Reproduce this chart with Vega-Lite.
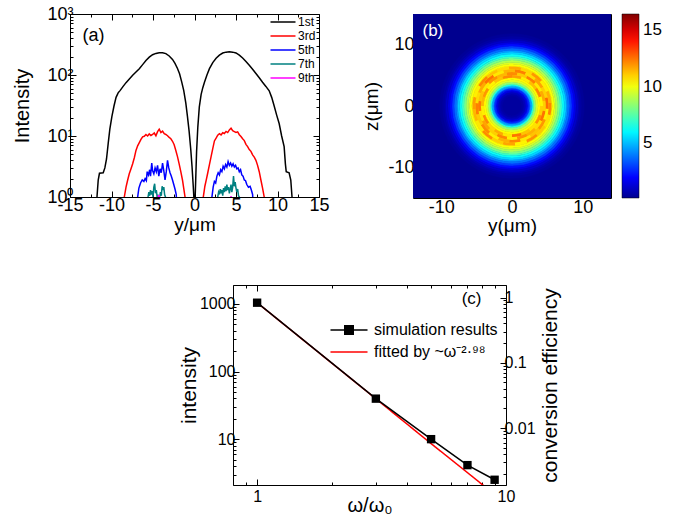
{
"$schema": "https://vega.github.io/schema/vega-lite/v6.json",
"padding": {"left": 12, "top": 4, "right": 5, "bottom": 5},
"background": "white",
"datasets": {
"harm": [
{"h":"1st","y":-12.0,"I":0.5},{"h":"1st","y":-11.75,"I":1.0},{"h":"1st","y":-11.6,"I":1.9},{"h":"1st","y":-11.45,"I":2.45},{"h":"1st","y":-11.0,"I":2.5},{"h":"1st","y":-10.8,"I":3.0},{"h":"1st","y":-10.6,"I":4.2},{"h":"1st","y":-10.4,"I":7.5},{"h":"1st","y":-10.2,"I":13},{"h":"1st","y":-9.95,"I":21},{"h":"1st","y":-9.7,"I":31},{"h":"1st","y":-9.45,"I":43},{"h":"1st","y":-9.2,"I":51},{"h":"1st","y":-8.95,"I":56},{"h":"1st","y":-8.6,"I":65},{"h":"1st","y":-8.25,"I":75},{"h":"1st","y":-7.85,"I":86},{"h":"1st","y":-7.45,"I":99},{"h":"1st","y":-7.05,"I":112},{"h":"1st","y":-6.65,"I":127},{"h":"1st","y":-6.25,"I":148},{"h":"1st","y":-5.85,"I":173},{"h":"1st","y":-5.45,"I":196},{"h":"1st","y":-5.05,"I":215},{"h":"1st","y":-4.65,"I":226},{"h":"1st","y":-4.25,"I":232},{"h":"1st","y":-3.85,"I":232},{"h":"1st","y":-3.45,"I":224},{"h":"1st","y":-3.05,"I":205},{"h":"1st","y":-2.65,"I":180},{"h":"1st","y":-2.35,"I":155},{"h":"1st","y":-2.05,"I":128},{"h":"1st","y":-1.8,"I":105},{"h":"1st","y":-1.55,"I":78},{"h":"1st","y":-1.3,"I":56},{"h":"1st","y":-1.05,"I":35},{"h":"1st","y":-0.85,"I":21},{"h":"1st","y":-0.65,"I":12},{"h":"1st","y":-0.45,"I":6},{"h":"1st","y":-0.3,"I":3.2},{"h":"1st","y":-0.15,"I":1.5},{"h":"1st","y":-0.08,"I":1.0},{"h":"1st","y":0.0,"I":0.5},{"h":"1st","y":0.08,"I":1.0},{"h":"1st","y":0.15,"I":2},{"h":"1st","y":0.25,"I":5.5},{"h":"1st","y":0.4,"I":14},{"h":"1st","y":0.58,"I":30},{"h":"1st","y":0.8,"I":48},{"h":"1st","y":1.0,"I":62},{"h":"1st","y":1.2,"I":76},{"h":"1st","y":1.5,"I":100},{"h":"1st","y":1.8,"I":127},{"h":"1st","y":2.2,"I":160},{"h":"1st","y":2.6,"I":188},{"h":"1st","y":3.0,"I":212},{"h":"1st","y":3.4,"I":229},{"h":"1st","y":3.8,"I":237},{"h":"1st","y":4.2,"I":240},{"h":"1st","y":4.6,"I":237},{"h":"1st","y":5.0,"I":230},{"h":"1st","y":5.4,"I":212},{"h":"1st","y":5.8,"I":190},{"h":"1st","y":6.2,"I":166},{"h":"1st","y":6.6,"I":144},{"h":"1st","y":7.0,"I":124},{"h":"1st","y":7.4,"I":106},{"h":"1st","y":7.8,"I":90},{"h":"1st","y":8.2,"I":76},{"h":"1st","y":8.6,"I":65},{"h":"1st","y":9.0,"I":55},{"h":"1st","y":9.3,"I":43},{"h":"1st","y":9.6,"I":31},{"h":"1st","y":9.9,"I":22},{"h":"1st","y":10.2,"I":16},{"h":"1st","y":10.5,"I":10},{"h":"1st","y":10.8,"I":6.7},{"h":"1st","y":10.95,"I":3.5},{"h":"1st","y":11.05,"I":2.6},{"h":"1st","y":11.4,"I":2.5},{"h":"1st","y":11.6,"I":1.9},{"h":"1st","y":11.75,"I":1.0},{"h":"1st","y":12.0,"I":0.5},
{"h":"3rd","y":-8.7,"I":0.5},{"h":"3rd","y":-8.46,"I":1.0},{"h":"3rd","y":-8.25,"I":1.45},{"h":"3rd","y":-8.05,"I":1.9},{"h":"3rd","y":-7.86,"I":2.4},{"h":"3rd","y":-7.65,"I":2.9},{"h":"3rd","y":-7.45,"I":3.5},{"h":"3rd","y":-7.25,"I":4.4},{"h":"3rd","y":-7.05,"I":5.8},{"h":"3rd","y":-6.85,"I":6.9},{"h":"3rd","y":-6.65,"I":7.8},{"h":"3rd","y":-6.45,"I":8.8},{"h":"3rd","y":-6.25,"I":9.7},{"h":"3rd","y":-6.05,"I":9.9},{"h":"3rd","y":-5.85,"I":10.6},{"h":"3rd","y":-5.65,"I":10.0},{"h":"3rd","y":-5.45,"I":10.8},{"h":"3rd","y":-5.25,"I":10.2},{"h":"3rd","y":-5.05,"I":10.6},{"h":"3rd","y":-4.85,"I":11.2},{"h":"3rd","y":-4.65,"I":10.1},{"h":"3rd","y":-4.45,"I":11.8},{"h":"3rd","y":-4.25,"I":12.9},{"h":"3rd","y":-4.05,"I":11.4},{"h":"3rd","y":-3.85,"I":12.0},{"h":"3rd","y":-3.65,"I":10.9},{"h":"3rd","y":-3.45,"I":10.6},{"h":"3rd","y":-3.25,"I":10.1},{"h":"3rd","y":-3.05,"I":9.5},{"h":"3rd","y":-2.85,"I":9.0},{"h":"3rd","y":-2.65,"I":8.2},{"h":"3rd","y":-2.45,"I":7.2},{"h":"3rd","y":-2.25,"I":5.8},{"h":"3rd","y":-2.05,"I":4.6},{"h":"3rd","y":-1.85,"I":3.5},{"h":"3rd","y":-1.65,"I":2.6},{"h":"3rd","y":-1.45,"I":1.9},{"h":"3rd","y":-1.3,"I":1.4},{"h":"3rd","y":-1.14,"I":1.0},{"h":"3rd","y":-1.0,"I":0.5},
{"h":"3rd","y":0.9,"I":0.5},{"h":"3rd","y":1.06,"I":1.0},{"h":"3rd","y":1.25,"I":1.5},{"h":"3rd","y":1.45,"I":2.0},{"h":"3rd","y":1.6,"I":2.5},{"h":"3rd","y":1.8,"I":3.4},{"h":"3rd","y":2.0,"I":4.6},{"h":"3rd","y":2.2,"I":6.2},{"h":"3rd","y":2.4,"I":8.3},{"h":"3rd","y":2.6,"I":9.2},{"h":"3rd","y":2.8,"I":10.3},{"h":"3rd","y":3.0,"I":10.9},{"h":"3rd","y":3.2,"I":10.4},{"h":"3rd","y":3.4,"I":11.3},{"h":"3rd","y":3.6,"I":11.0},{"h":"3rd","y":3.8,"I":11.9},{"h":"3rd","y":4.0,"I":11.4},{"h":"3rd","y":4.2,"I":12.6},{"h":"3rd","y":4.4,"I":13.4},{"h":"3rd","y":4.6,"I":12.2},{"h":"3rd","y":4.8,"I":11.8},{"h":"3rd","y":5.0,"I":11.4},{"h":"3rd","y":5.2,"I":11.7},{"h":"3rd","y":5.4,"I":10.5},{"h":"3rd","y":5.6,"I":9.8},{"h":"3rd","y":5.8,"I":9.0},{"h":"3rd","y":6.0,"I":8.4},{"h":"3rd","y":6.2,"I":7.3},{"h":"3rd","y":6.4,"I":6.7},{"h":"3rd","y":6.6,"I":6.0},{"h":"3rd","y":6.8,"I":5.6},{"h":"3rd","y":7.0,"I":4.9},{"h":"3rd","y":7.2,"I":4.5},{"h":"3rd","y":7.4,"I":4.0},{"h":"3rd","y":7.6,"I":3.3},{"h":"3rd","y":7.8,"I":2.6},{"h":"3rd","y":8.0,"I":1.9},{"h":"3rd","y":8.2,"I":1.4},{"h":"3rd","y":8.4,"I":1.0},{"h":"3rd","y":8.6,"I":0.5},
{"h":"5th","y":-7.0,"I":0.5},{"h":"5th","y":-6.85,"I":1.0},{"h":"5th","y":-6.7,"I":1.4},{"h":"5th","y":-6.5,"I":1.7},{"h":"5th","y":-6.3,"I":1.9},{"h":"5th","y":-6.1,"I":1.8},{"h":"5th","y":-5.95,"I":2.0},{"h":"5th","y":-5.8,"I":1.85},{"h":"5th","y":-5.7,"I":2.6},{"h":"5th","y":-5.55,"I":2.3},{"h":"5th","y":-5.4,"I":2.8},{"h":"5th","y":-5.3,"I":2.2},{"h":"5th","y":-5.15,"I":3.6},{"h":"5th","y":-5.05,"I":2.7},{"h":"5th","y":-4.9,"I":2.4},{"h":"5th","y":-4.75,"I":3.0},{"h":"5th","y":-4.6,"I":2.6},{"h":"5th","y":-4.45,"I":3.3},{"h":"5th","y":-4.3,"I":2.2},{"h":"5th","y":-4.15,"I":2.9},{"h":"5th","y":-4.0,"I":2.5},{"h":"5th","y":-3.85,"I":3.6},{"h":"5th","y":-3.7,"I":2.7},{"h":"5th","y":-3.55,"I":1.9},{"h":"5th","y":-3.4,"I":2.6},{"h":"5th","y":-3.25,"I":4.0},{"h":"5th","y":-3.1,"I":3.0},{"h":"5th","y":-2.95,"I":2.5},{"h":"5th","y":-2.8,"I":2.2},{"h":"5th","y":-2.65,"I":1.9},{"h":"5th","y":-2.5,"I":1.6},{"h":"5th","y":-2.35,"I":1.35},{"h":"5th","y":-2.2,"I":1.1},{"h":"5th","y":-2.1,"I":0.5},
{"h":"5th","y":1.95,"I":0.5},{"h":"5th","y":2.1,"I":1.0},{"h":"5th","y":2.25,"I":1.45},{"h":"5th","y":2.4,"I":1.8},{"h":"5th","y":2.55,"I":1.7},{"h":"5th","y":2.7,"I":2.2},{"h":"5th","y":2.85,"I":2.5},{"h":"5th","y":3.0,"I":2.3},{"h":"5th","y":3.15,"I":2.8},{"h":"5th","y":3.3,"I":2.6},{"h":"5th","y":3.45,"I":3.2},{"h":"5th","y":3.6,"I":2.9},{"h":"5th","y":3.75,"I":3.4},{"h":"5th","y":3.9,"I":3.1},{"h":"5th","y":4.05,"I":3.8},{"h":"5th","y":4.2,"I":3.3},{"h":"5th","y":4.35,"I":3.6},{"h":"5th","y":4.5,"I":3.2},{"h":"5th","y":4.65,"I":3.5},{"h":"5th","y":4.8,"I":3.1},{"h":"5th","y":4.95,"I":3.3},{"h":"5th","y":5.1,"I":2.9},{"h":"5th","y":5.25,"I":3.0},{"h":"5th","y":5.4,"I":2.6},{"h":"5th","y":5.55,"I":2.8},{"h":"5th","y":5.7,"I":2.3},{"h":"5th","y":5.85,"I":2.2},{"h":"5th","y":6.0,"I":1.9},{"h":"5th","y":6.15,"I":1.85},{"h":"5th","y":6.3,"I":1.6},{"h":"5th","y":6.5,"I":1.45},{"h":"5th","y":6.7,"I":1.5},{"h":"5th","y":6.85,"I":1.3},{"h":"5th","y":7.0,"I":1.1},{"h":"5th","y":7.15,"I":0.5},
{"h":"7th","y":-5.7,"I":0.5},{"h":"7th","y":-5.6,"I":1.0},{"h":"7th","y":-5.5,"I":1.2},{"h":"7th","y":-5.4,"I":1.05},{"h":"7th","y":-5.3,"I":1.3},{"h":"7th","y":-5.2,"I":1.1},{"h":"7th","y":-5.1,"I":1.25},{"h":"7th","y":-5.0,"I":1.0},{"h":"7th","y":-4.9,"I":1.45},{"h":"7th","y":-4.8,"I":1.65},{"h":"7th","y":-4.7,"I":1.15},{"h":"7th","y":-4.6,"I":1.3},{"h":"7th","y":-4.5,"I":1.0},{"h":"7th","y":-4.4,"I":1.1},{"h":"7th","y":-4.3,"I":0.8},{"h":"7th","y":-4.2,"I":1.0},{"h":"7th","y":-4.1,"I":1.2},{"h":"7th","y":-4.0,"I":1.05},{"h":"7th","y":-3.9,"I":1.5},{"h":"7th","y":-3.8,"I":1.3},{"h":"7th","y":-3.7,"I":1.45},{"h":"7th","y":-3.6,"I":1.1},{"h":"7th","y":-3.5,"I":1.0},{"h":"7th","y":-3.4,"I":0.5},
{"h":"7th","y":2.7,"I":0.5},{"h":"7th","y":2.8,"I":1.0},{"h":"7th","y":2.9,"I":1.2},{"h":"7th","y":3.0,"I":1.1},{"h":"7th","y":3.1,"I":1.35},{"h":"7th","y":3.2,"I":1.15},{"h":"7th","y":3.3,"I":1.3},{"h":"7th","y":3.4,"I":1.05},{"h":"7th","y":3.5,"I":1.4},{"h":"7th","y":3.6,"I":1.2},{"h":"7th","y":3.7,"I":1.5},{"h":"7th","y":3.8,"I":1.25},{"h":"7th","y":3.9,"I":1.6},{"h":"7th","y":4.0,"I":1.3},{"h":"7th","y":4.1,"I":1.45},{"h":"7th","y":4.2,"I":1.15},{"h":"7th","y":4.3,"I":1.35},{"h":"7th","y":4.4,"I":1.6},{"h":"7th","y":4.5,"I":1.2},{"h":"7th","y":4.6,"I":1.45},{"h":"7th","y":4.7,"I":2.2},{"h":"7th","y":4.8,"I":1.5},{"h":"7th","y":4.9,"I":1.75},{"h":"7th","y":5.0,"I":1.4},{"h":"7th","y":5.1,"I":1.2},{"h":"7th","y":5.2,"I":1.35},{"h":"7th","y":5.3,"I":1.05},{"h":"7th","y":5.4,"I":1.0},{"h":"7th","y":5.5,"I":0.5},
{"h":"9th","y":-4.5,"I":0.5},{"h":"9th","y":-4.35,"I":1.05},{"h":"9th","y":-4.25,"I":1.05},{"h":"9th","y":-4.15,"I":0.5},{"h":"9th","y":4.3,"I":0.5},{"h":"9th","y":4.4,"I":1.04},{"h":"9th","y":4.5,"I":0.5}
],
"rings": [
{"r0":0,"r1":1.4,"v":0.45},{"r0":1.4,"r1":1.7,"v":0.6},{"r0":1.7,"r1":2.0,"v":0.9},{"r0":2.0,"r1":2.3,"v":1.5},{"r0":2.3,"r1":2.55,"v":2.7},{"r0":2.55,"r1":2.85,"v":4.5},{"r0":2.85,"r1":3.1,"v":6.5},{"r0":3.1,"r1":3.4,"v":8.3},{"r0":3.4,"r1":3.7,"v":9.6},{"r0":3.7,"r1":4.0,"v":10.3},{"r0":4.0,"r1":4.25,"v":10.6},{"r0":4.25,"r1":4.55,"v":10.9},{"r0":4.55,"r1":4.8,"v":11.0},{"r0":4.8,"r1":5.1,"v":11.0},{"r0":5.1,"r1":5.4,"v":10.8},{"r0":5.4,"r1":5.65,"v":10.5},{"r0":5.65,"r1":5.95,"v":10.2},{"r0":5.95,"r1":6.2,"v":9.7},{"r0":6.2,"r1":6.5,"v":9.0},{"r0":6.5,"r1":6.8,"v":8.1},{"r0":6.8,"r1":7.05,"v":7.2},{"r0":7.05,"r1":7.35,"v":6.3},{"r0":7.35,"r1":7.65,"v":5.4},{"r0":7.65,"r1":7.9,"v":4.6},{"r0":7.9,"r1":8.2,"v":3.8},{"r0":8.2,"r1":8.5,"v":3.0},{"r0":8.5,"r1":8.8,"v":2.2},{"r0":8.8,"r1":9.05,"v":1.6},{"r0":9.05,"r1":9.35,"v":1.1},{"r0":9.35,"r1":9.6,"v":0.75},{"r0":9.6,"r1":9.9,"v":0.5},{"r0":9.9,"r1":10.2,"v":0.35}
],
"speck": [
{"r0":4.0,"r1":4.4,"t0":0,"t1":18,"v":11.8},{"r0":4.0,"r1":4.4,"t0":18,"t1":36,"v":10.5},{"r0":4.0,"r1":4.4,"t0":36,"t1":54,"v":11.3},{"r0":4.0,"r1":4.4,"t0":54,"t1":72,"v":12.2},{"r0":4.0,"r1":4.4,"t0":72,"t1":90,"v":10.4},{"r0":4.0,"r1":4.4,"t0":90,"t1":108,"v":11.0},{"r0":4.0,"r1":4.4,"t0":108,"t1":126,"v":12.0},{"r0":4.0,"r1":4.4,"t0":126,"t1":144,"v":10.7},{"r0":4.0,"r1":4.4,"t0":144,"t1":162,"v":11.2},{"r0":4.0,"r1":4.4,"t0":162,"t1":180,"v":12.5},{"r0":4.0,"r1":4.4,"t0":180,"t1":198,"v":10.6},{"r0":4.0,"r1":4.4,"t0":198,"t1":216,"v":11.6},{"r0":4.0,"r1":4.4,"t0":216,"t1":234,"v":10.9},{"r0":4.0,"r1":4.4,"t0":234,"t1":252,"v":12.1},{"r0":4.0,"r1":4.4,"t0":252,"t1":270,"v":10.5},{"r0":4.0,"r1":4.4,"t0":270,"t1":288,"v":11.4},{"r0":4.0,"r1":4.4,"t0":288,"t1":306,"v":11.9},{"r0":4.0,"r1":4.4,"t0":306,"t1":324,"v":10.4},{"r0":4.0,"r1":4.4,"t0":324,"t1":342,"v":11.2},{"r0":4.0,"r1":4.4,"t0":342,"t1":360,"v":12.1},
{"r0":4.4,"r1":4.8,"t0":9,"t1":27,"v":11.1},{"r0":4.4,"r1":4.8,"t0":27,"t1":45,"v":12.3},{"r0":4.4,"r1":4.8,"t0":45,"t1":63,"v":10.6},{"r0":4.4,"r1":4.8,"t0":63,"t1":81,"v":11.6},{"r0":4.4,"r1":4.8,"t0":81,"t1":99,"v":11.0},{"r0":4.4,"r1":4.8,"t0":99,"t1":117,"v":12.5},{"r0":4.4,"r1":4.8,"t0":117,"t1":135,"v":10.8},{"r0":4.4,"r1":4.8,"t0":135,"t1":153,"v":11.5},{"r0":4.4,"r1":4.8,"t0":153,"t1":171,"v":12.0},{"r0":4.4,"r1":4.8,"t0":171,"t1":189,"v":10.5},{"r0":4.4,"r1":4.8,"t0":189,"t1":207,"v":12.2},{"r0":4.4,"r1":4.8,"t0":207,"t1":225,"v":11.0},{"r0":4.4,"r1":4.8,"t0":225,"t1":243,"v":11.7},{"r0":4.4,"r1":4.8,"t0":243,"t1":261,"v":10.7},{"r0":4.4,"r1":4.8,"t0":261,"t1":279,"v":12.4},{"r0":4.4,"r1":4.8,"t0":279,"t1":297,"v":11.2},{"r0":4.4,"r1":4.8,"t0":297,"t1":315,"v":10.6},{"r0":4.4,"r1":4.8,"t0":315,"t1":333,"v":12.0},{"r0":4.4,"r1":4.8,"t0":333,"t1":351,"v":11.4},{"r0":4.4,"r1":4.8,"t0":351,"t1":369,"v":12.1},
{"r0":4.8,"r1":5.2,"t0":4.5,"t1":22.5,"v":12.3},{"r0":4.8,"r1":5.2,"t0":22.5,"t1":40.5,"v":10.8},{"r0":4.8,"r1":5.2,"t0":40.5,"t1":58.5,"v":11.7},{"r0":4.8,"r1":5.2,"t0":58.5,"t1":76.5,"v":11.0},{"r0":4.8,"r1":5.2,"t0":76.5,"t1":94.5,"v":12.6},{"r0":4.8,"r1":5.2,"t0":94.5,"t1":112.5,"v":10.5},{"r0":4.8,"r1":5.2,"t0":112.5,"t1":130.5,"v":11.9},{"r0":4.8,"r1":5.2,"t0":130.5,"t1":148.5,"v":11.2},{"r0":4.8,"r1":5.2,"t0":148.5,"t1":166.5,"v":10.6},{"r0":4.8,"r1":5.2,"t0":166.5,"t1":184.5,"v":12.2},{"r0":4.8,"r1":5.2,"t0":184.5,"t1":202.5,"v":11.5},{"r0":4.8,"r1":5.2,"t0":202.5,"t1":220.5,"v":10.5},{"r0":4.8,"r1":5.2,"t0":220.5,"t1":238.5,"v":12.1},{"r0":4.8,"r1":5.2,"t0":238.5,"t1":256.5,"v":11.1},{"r0":4.8,"r1":5.2,"t0":256.5,"t1":274.5,"v":12.3},{"r0":4.8,"r1":5.2,"t0":274.5,"t1":292.5,"v":10.8},{"r0":4.8,"r1":5.2,"t0":292.5,"t1":310.5,"v":11.6},{"r0":4.8,"r1":5.2,"t0":310.5,"t1":328.5,"v":12.5},{"r0":4.8,"r1":5.2,"t0":328.5,"t1":346.5,"v":10.6},{"r0":4.8,"r1":5.2,"t0":346.5,"t1":364.5,"v":11.4},
{"r0":5.2,"r1":5.6,"t0":13.5,"t1":31.5,"v":10.9},{"r0":5.2,"r1":5.6,"t0":31.5,"t1":49.5,"v":11.9},{"r0":5.2,"r1":5.6,"t0":49.5,"t1":67.5,"v":10.5},{"r0":5.2,"r1":5.6,"t0":67.5,"t1":85.5,"v":11.5},{"r0":5.2,"r1":5.6,"t0":85.5,"t1":103.5,"v":12.2},{"r0":5.2,"r1":5.6,"t0":103.5,"t1":121.5,"v":10.7},{"r0":5.2,"r1":5.6,"t0":121.5,"t1":139.5,"v":11.1},{"r0":5.2,"r1":5.6,"t0":139.5,"t1":157.5,"v":12.0},{"r0":5.2,"r1":5.6,"t0":157.5,"t1":175.5,"v":10.4},{"r0":5.2,"r1":5.6,"t0":175.5,"t1":193.5,"v":11.7},{"r0":5.2,"r1":5.6,"t0":193.5,"t1":211.5,"v":11.0},{"r0":5.2,"r1":5.6,"t0":211.5,"t1":229.5,"v":12.1},{"r0":5.2,"r1":5.6,"t0":229.5,"t1":247.5,"v":10.6},{"r0":5.2,"r1":5.6,"t0":247.5,"t1":265.5,"v":11.4},{"r0":5.2,"r1":5.6,"t0":265.5,"t1":283.5,"v":11.8},{"r0":5.2,"r1":5.6,"t0":283.5,"t1":301.5,"v":10.5},{"r0":5.2,"r1":5.6,"t0":301.5,"t1":319.5,"v":12.2},{"r0":5.2,"r1":5.6,"t0":319.5,"t1":337.5,"v":11.2},{"r0":5.2,"r1":5.6,"t0":337.5,"t1":355.5,"v":10.8},{"r0":5.2,"r1":5.6,"t0":355.5,"t1":373.5,"v":11.6}
],
"sim": [
{"w":1,"I":1040,"eff":0.815,"series":"simulation results"},{"w":3,"I":39.7,"eff":0.0281,"series":"simulation results"},{"w":5,"I":10.0,"eff":0.00671,"series":"simulation results"},{"w":7,"I":4.13,"eff":0.00268,"series":"simulation results"},{"w":9,"I":2.51,"eff":0.0016,"series":"simulation results"}
],
"fit": [
{"w":1,"I":1040,"series":"fitted by ~ω⁻²·⁹⁸"},{"w":3,"I":39.5,"series":"fitted by ~ω⁻²·⁹⁸"},{"w":5,"I":8.6,"series":"fitted by ~ω⁻²·⁹⁸"},{"w":7,"I":3.2,"series":"fitted by ~ω⁻²·⁹⁸"},{"w":8.5,"I":1.8,"series":"fitted by ~ω⁻²·⁹⁸"}
]
},
"config": {
"font": "Liberation Sans",
"view": {"stroke": "black", "strokeWidth": 1},
"axis": {"grid": false, "domain": false, "tickColor": "black", "tickWidth": 1, "labelColor": "black", "titleColor": "black", "labelFontSize": 18, "titleFontSize": 19, "titleFontWeight": "normal", "labelFont": "Liberation Sans", "titleFont": "Liberation Sans", "labelOverlap": false, "labelFlush": false},
"legend": {"labelColor": "black", "labelFont": "Liberation Sans"},
"title": {"font": "Liberation Sans", "fontWeight": "normal", "color": "black"}
},
"spacing": 48,
"vconcat": [
{"hconcat": [
  {"width": 249, "height": 183,
   "data": {"name": "harm"},
   "layer": [
    {"mark": {"type": "line", "strokeWidth": 1.5, "clip": true},
     "encoding": {
      "x": {"field": "y", "type": "quantitative", "scale": {"domain": [-15, 15], "nice": false},
            "axis": {"values": [-15,-12.5,-10,-7.5,-5,-2.5,0,2.5,5,7.5,10,12.5,15], "labelExpr": "datum.value % 5 == 0 ? (datum.value < 0 ? '-' + abs(datum.value) : '' + datum.value) : ''", "tickSize": {"condition": {"test": "datum.value % 5 == 0", "value": -6}, "value": -3}, "labelPadding": 5, "title": "y/μm", "titlePadding": -2}},
      "y": {"field": "I", "type": "quantitative", "scale": {"type": "log", "domain": [1, 1000], "nice": false},
            "axis": {"values": [1,2,3,4,5,6,7,8,9,10,20,30,40,50,60,70,80,90,100,200,300,400,500,600,700,800,900,1000], "labelExpr": "datum.value == 1 ? '10⁰' : datum.value == 10 ? '10¹' : datum.value == 100 ? '10²' : datum.value == 1000 ? '10³' : ''", "tickSize": {"condition": {"test": "datum.value == 1 || datum.value == 10 || datum.value == 100 || datum.value == 1000", "value": -6}, "value": -3}, "labelPadding": 3, "title": "Intensity", "titlePadding": 14, "titleFontSize": 20}},
      "color": {"field": "h", "type": "nominal", "scale": {"domain": ["1st","3rd","5th","7th","9th"], "range": ["#000000","#FF0000","#0000FF","#008080","#FF00FF"]},
            "legend": {"orient": "none", "legendX": 207, "legendY": 2, "title": null, "symbolType": "M-2.5,0H2.5", "symbolSize": 100, "symbolStrokeWidth": 1.5, "labelFontSize": 12, "labelOffset": 9, "rowPadding": 2, "padding": 0}}
     }},
    {"mark": {"type": "line", "opacity": 0},
     "encoding": {
      "x": {"field": "y", "type": "quantitative", "axis": {"orient": "top", "zindex": 1, "values": [-15,-12.5,-10,-7.5,-5,-2.5,0,2.5,5,7.5,10,12.5,15], "labels": false, "title": "(a)", "titleX": 12, "titleY": 26, "titleAlign": "left", "titleBaseline": "alphabetic", "titleAngle": 0, "titleFontSize": 18, "tickSize": {"condition": {"test": "datum.value % 5 == 0", "value": -6}, "value": -3}}},
      "y": {"field": "I", "type": "quantitative", "axis": {"orient": "right", "values": [1,2,3,4,5,6,7,8,9,10,20,30,40,50,60,70,80,90,100,200,300,400,500,600,700,800,900,1000], "labels": false, "title": null, "tickSize": {"condition": {"test": "datum.value == 1 || datum.value == 10 || datum.value == 100 || datum.value == 1000", "value": -6}, "value": -3}}}
     }}
   ],
   "resolve": {"axis": {"x": "independent", "y": "independent"}}
  },
 {"width": 198, "height": 184,
  "layer": [
   {"data": {"values": [{"y0": -14, "y1": 14, "z0": -15, "z1": 15, "v": 0.2}]},
    "mark": {"type": "rect"},
    "encoding": {
     "x": {"field": "y0", "type": "quantitative", "scale": {"domain": [-14, 14], "nice": false}, "axis": {"values": [-10, 0, 10], "labelExpr": "datum.value < 0 ? '-' + abs(datum.value) : '' + datum.value", "tickSize": -4, "labelPadding": 4, "title": "y(μm)", "titlePadding": 0}},
     "x2": {"field": "y1"},
     "y": {"field": "z0", "type": "quantitative", "scale": {"domain": [-15, 15], "nice": false}, "axis": {"values": [-10, 0, 10], "labelExpr": "datum.value < 0 ? '-' + abs(datum.value) : '' + datum.value", "tickSize": -4, "labelPadding": 3, "title": "z(μm)", "titlePadding": 6}},
     "y2": {"field": "z1"},
     "color": {"field": "v", "type": "quantitative", "scale": {"type": "linear", "domain": [0.2, 2.0, 6.11, 10.23, 14.34, 16.4], "range": ["#00008F", "#0000FF", "#00FFFF", "#FFFF00", "#FF0000", "#800000"], "interpolate": "rgb", "clamp": true},
       "legend": {"title": null, "orient": "right", "offset": 11, "gradientLength": 184, "gradientThickness": 17, "values": [5, 10, 15], "labelFontSize": 17, "gradientStrokeColor": "black", "gradientStrokeWidth": 0.5, "labelOffset": 4}}
    }},
   {"data": {"name": "rings"},
    "mark": {"type": "arc", "theta": 0, "theta2": 6.2832, "strokeWidth": 0.6},
    "encoding": {
     "radius": {"field": "r1", "type": "quantitative", "scale": {"type": "linear", "domain": [0, 10], "range": [0, 70.7], "zero": true, "nice": false}},
     "radius2": {"field": "r0"},
     "color": {"field": "v", "type": "quantitative"},
     "stroke": {"field": "v", "type": "quantitative", "scale": {"type": "linear", "domain": [0.2, 2.0, 6.11, 10.23, 14.34, 16.4], "range": ["#00008F", "#0000FF", "#00FFFF", "#FFFF00", "#FF0000", "#800000"], "interpolate": "rgb", "clamp": true}, "legend": null}
    }},
   {"data": {"name": "speck"},
    "mark": {"type": "arc"},
    "encoding": {
     "theta": {"field": "t0", "type": "quantitative", "stack": null, "scale": {"type": "linear", "domain": [0, 360], "range": [0, 6.2832]}},
     "theta2": {"field": "t1"},
     "radius": {"field": "r1", "type": "quantitative"},
     "radius2": {"field": "r0"},
     "color": {"field": "v", "type": "quantitative"}
    }},
   {"data": {"values": [{"y0": -14}]},
    "mark": {"type": "point", "opacity": 0},
    "encoding": {
     "x": {"field": "y0", "type": "quantitative", "axis": {"orient": "top", "zindex": 1, "ticks": false, "labels": false, "title": "(b)", "titleX": 9, "titleY": 21, "titleAlign": "left", "titleBaseline": "alphabetic", "titleAngle": 0, "titleFontSize": 17, "titleColor": "white"}}
    }}
  ],
  "resolve": {"axis": {"x": "independent"}}
 }
], "spacing": 94, "bounds": "flush"},
{"hconcat": [
 {"width": 163, "height": 10, "data": {"values": [{"a": 0}]}, "mark": {"type": "point", "opacity": 0}, "view": {"stroke": null}},
 {"width": 273, "height": 200,
  "layer": [
   {"layer": [
     {"data": {"name": "fit"},
      "mark": {"type": "line", "color": "#FF0000", "strokeWidth": 1.5, "clip": true},
      "encoding": {
       "x": {"field": "w", "type": "quantitative", "scale": {"type": "log", "domain": [0.8, 10], "nice": false},
             "axis": {"values": [0.8,0.9,1,2,3,4,5,6,7,8,9,10], "labelExpr": "datum.value == 1 ? '1' : datum.value == 10 ? '10' : ''", "tickSize": {"condition": {"test": "datum.value == 1 || datum.value == 10", "value": -6}, "value": -3}, "labelFontSize": 16, "labelPadding": 9, "title": "ω/ω₀", "titleFontSize": 20, "titlePadding": -12}},
       "y": {"field": "I", "type": "quantitative", "scale": {"type": "log", "domain": [2.1, 1900], "nice": false},
             "axis": {"values": [3,4,5,6,7,8,9,10,20,30,40,50,60,70,80,90,100,200,300,400,500,600,700,800,900,1000], "labelExpr": "datum.value == 10 ? '10' : datum.value == 100 ? '100' : datum.value == 1000 ? '1000' : ''", "tickSize": {"condition": {"test": "datum.value == 10 || datum.value == 100 || datum.value == 1000", "value": -6}, "value": -3}, "labelFontSize": 16, "labelPadding": 4, "title": "intensity", "titleFontSize": 21, "titlePadding": 0}},
       "strokeDash": {"field": "series", "type": "nominal", "scale": {"domain": ["fitted by ~ω⁻²·⁹⁸"], "range": [[1, 0]]},
         "legend": {"orient": "none", "legendX": 271, "legendY": 330, "title": null, "symbolType": "M-2.85,0H2.85", "symbolSize": 169, "symbolStrokeWidth": 1.5, "symbolStrokeColor": "#FF0000", "labelFontSize": 16, "labelOffset": 17, "padding": 0}}
      }},
     {"data": {"name": "sim"},
      "mark": {"type": "line", "strokeWidth": 1.5},
      "encoding": {
       "x": {"field": "w", "type": "quantitative"},
       "y": {"field": "I", "type": "quantitative"},
       "color": {"field": "series", "type": "nominal", "scale": {"domain": ["simulation results"], "range": ["#000000"]},
         "legend": {"orient": "none", "legendX": 271, "legendY": 308, "title": null, "symbolType": "M-2.85,0H2.85M-0.65,-0.65H0.65V0.65H-0.65ZM-0.42,-0.42H0.42V0.42H-0.42ZM-0.2,-0.2H0.2V0.2H-0.2ZM-0.02,-0.02H0.02V0.02H-0.02Z", "symbolSize": 169, "symbolStrokeWidth": 1.5, "labelFontSize": 16, "labelOffset": 17, "padding": 0}}
      }},
     {"data": {"name": "sim"},
      "mark": {"type": "point", "shape": "square", "filled": true, "color": "#000000", "size": 70, "opacity": 1},
      "encoding": {
       "x": {"field": "w", "type": "quantitative"},
       "y": {"field": "I", "type": "quantitative"}
      }}
   ]},
   {"data": {"name": "sim"},
    "mark": {"type": "line", "opacity": 0},
    "encoding": {
     "x": {"field": "w", "type": "quantitative", "scale": {"type": "log", "domain": [0.8, 10], "nice": false},
           "axis": {"orient": "top", "zindex": 1, "values": [0.8,0.9,1,2,3,4,5,6,7,8,9,10], "labels": false, "title": "(c)", "titleX": 248, "titleY": 18, "titleAlign": "right", "titleBaseline": "alphabetic", "titleAngle": 0, "titleFontSize": 17, "tickSize": {"condition": {"test": "datum.value == 1 || datum.value == 10", "value": -6}, "value": -3}}},
     "y": {"field": "eff", "type": "quantitative", "scale": {"type": "log", "domain": [0.00134, 1.555], "nice": false},
           "axis": {"orient": "right", "values": [0.002,0.003,0.004,0.005,0.006,0.007,0.008,0.009,0.01,0.02,0.03,0.04,0.05,0.06,0.07,0.08,0.09,0.1,0.2,0.3,0.4,0.5,0.6,0.7,0.8,0.9,1], "labelExpr": "datum.value == 1 ? '1' : datum.value == 0.1 ? '0.1' : datum.value == 0.01 ? '0.01' : ''", "tickSize": {"condition": {"test": "datum.value == 1 || datum.value == 0.1 || datum.value == 0.01", "value": -6}, "value": -3}, "labelFontSize": 16, "labelPadding": 4, "title": "conversion efficiency", "titleFontSize": 21, "titleAngle": 270, "titleBaseline": "top", "titlePadding": 4}}
    }}
  ],
  "resolve": {"scale": {"y": "independent"}, "axis": {"x": "independent", "y": "independent"}}
 }
], "spacing": 0, "bounds": "flush"}
]
}
